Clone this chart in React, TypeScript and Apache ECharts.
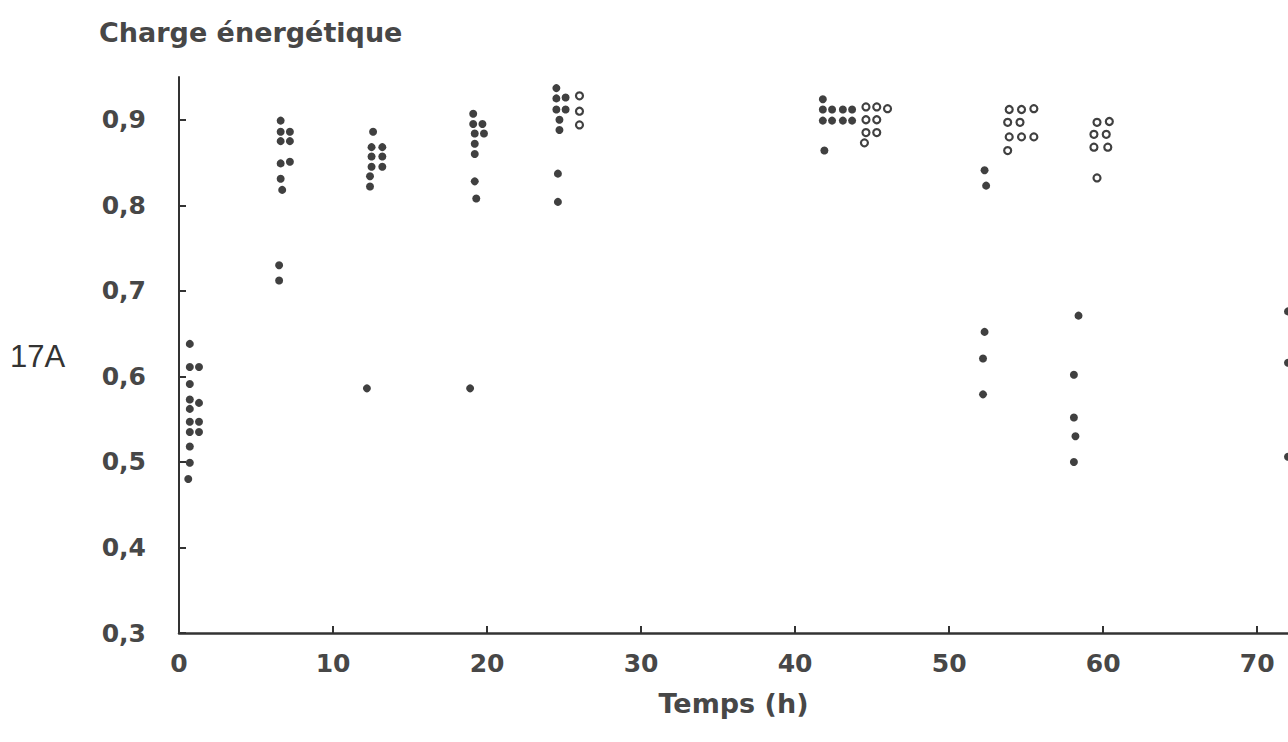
import React, { useEffect, useRef } from "react";
import * as echarts from "echarts";

const yTicks = [0.3, 0.4, 0.5, 0.6, 0.7, 0.8, 0.9];
const xTicks = [0, 10, 20, 30, 40, 50, 60, 70];

// Filled dots (x: hours, y: energy charge)
const filledPoints: [number, number][] = [
  [0.7, 0.638], [0.7, 0.611], [1.3, 0.611], [0.7, 0.591], [0.7, 0.573], [1.3, 0.569],
  [0.7, 0.562], [0.7, 0.547], [1.3, 0.547], [0.7, 0.535], [1.3, 0.535], [0.7, 0.518],
  [0.7, 0.499], [0.6, 0.48],
  [6.6, 0.899], [6.6, 0.886], [7.2, 0.886], [6.6, 0.875], [7.2, 0.875], [6.6, 0.849],
  [7.2, 0.851], [6.6, 0.831], [6.7, 0.818], [6.5, 0.73], [6.5, 0.712],
  [12.6, 0.886], [12.5, 0.868], [13.2, 0.868], [12.5, 0.857], [13.2, 0.857], [12.5, 0.845],
  [13.2, 0.845], [12.4, 0.834], [12.4, 0.822], [12.2, 0.586],
  [19.1, 0.907], [19.1, 0.895], [19.7, 0.895], [19.2, 0.884], [19.8, 0.884], [19.2, 0.872],
  [19.2, 0.86], [19.2, 0.828], [19.3, 0.808], [18.9, 0.586],
  [24.5, 0.937], [24.5, 0.925], [25.1, 0.926], [24.5, 0.912], [25.1, 0.912], [24.7, 0.9],
  [24.7, 0.888], [24.6, 0.837], [24.6, 0.804],
  [41.8, 0.924], [41.8, 0.912], [42.4, 0.912], [43.1, 0.912], [43.7, 0.912],
  [41.8, 0.899], [42.4, 0.899], [43.1, 0.899], [43.7, 0.899], [41.9, 0.864],
  [52.3, 0.841], [52.4, 0.823],
  [52.3, 0.652], [52.2, 0.621], [52.2, 0.579],
  [58.4, 0.671], [58.1, 0.602], [58.1, 0.552], [58.2, 0.53], [58.1, 0.5],
  [72, 0.676], [72, 0.616], [72, 0.506],
];

// Open circles
const openPoints: [number, number][] = [
  [26.0, 0.928], [26.0, 0.91], [26.0, 0.894],
  [44.6, 0.915], [45.3, 0.915], [46.0, 0.913], [44.6, 0.9], [45.3, 0.9],
  [44.6, 0.885], [45.3, 0.885], [44.5, 0.873],
  [53.9, 0.912], [54.7, 0.912], [55.5, 0.913], [53.8, 0.897], [54.6, 0.897],
  [53.9, 0.88], [54.7, 0.88], [55.5, 0.88], [53.8, 0.864],
  [59.6, 0.897], [60.4, 0.898], [59.4, 0.883], [60.2, 0.883], [59.4, 0.868],
  [60.3, 0.868], [59.6, 0.832],
];

const INK = "#404040";
const TEXT = "#474747";
const FONT = "DejaVu Sans";

export default function App() {
  const ref = useRef<HTMLDivElement>(null);
  useEffect(() => {
    document.body.style.margin = "0";
    const chart = echarts.init(ref.current!, null, { renderer: "svg" });
    chart.setOption({
      animation: false,
      backgroundColor: "#fff",
      grid: { left: 179, right: 0, top: 77, bottom: 109, containLabel: false },
      title: {
        text: "Charge énergétique",
        left: 94,
        top: 14,
        textStyle: { fontFamily: FONT, fontSize: 27, fontWeight: "bold", color: TEXT },
      },
      graphic: [
        {
          type: "text",
          left: 10,
          top: 341,
          style: { text: "17A", fontFamily: "Liberation Sans", fontSize: 31, fill: "#333" },
        },
      ],
      xAxis: {
        type: "value",
        min: 0,
        max: 72,
        name: "Temps (h)",
        nameLocation: "middle",
        nameGap: 57,
        nameTextStyle: { fontFamily: FONT, fontSize: 27, fontWeight: "bold", color: TEXT },
        splitLine: { show: false },
        axisLine: { show: true, lineStyle: { color: "#333", width: 2.5 } },
        axisTick: { inside: true, length: 7, lineStyle: { color: "#333", width: 2 }, customValues: xTicks },
        axisLabel: {
          customValues: xTicks,
          margin: 18,
          fontFamily: FONT,
          fontSize: 25,
          fontWeight: "bold",
          color: TEXT,
        },
      },
      yAxis: {
        type: "value",
        min: 0.3,
        max: 0.95,
        splitLine: { show: false },
        axisLine: { show: true, lineStyle: { color: "#333", width: 2 } },
        axisTick: { inside: true, length: 7, lineStyle: { color: "#333", width: 2 }, customValues: yTicks },
        axisLabel: {
          customValues: yTicks,
          margin: 33,
          fontFamily: FONT,
          fontSize: 25,
          fontWeight: "bold",
          color: TEXT,
          formatter: (v: number) => v.toFixed(1).replace(".", ","),
        },
      },
      series: [
        {
          type: "scatter",
          data: filledPoints,
          symbol: "circle",
          symbolSize: 8,
          clip: false,
          itemStyle: { color: INK, opacity: 1 },
        },
        {
          type: "scatter",
          data: openPoints,
          symbol: "circle",
          symbolSize: 7,
          clip: false,
          itemStyle: { color: "#fff", borderColor: INK, borderWidth: 2.2, opacity: 1 },
        },
      ],
    });
    return () => chart.dispose();
  }, []);
  return <div ref={ref} style={{ width: 1288, height: 742 }} />;
}
